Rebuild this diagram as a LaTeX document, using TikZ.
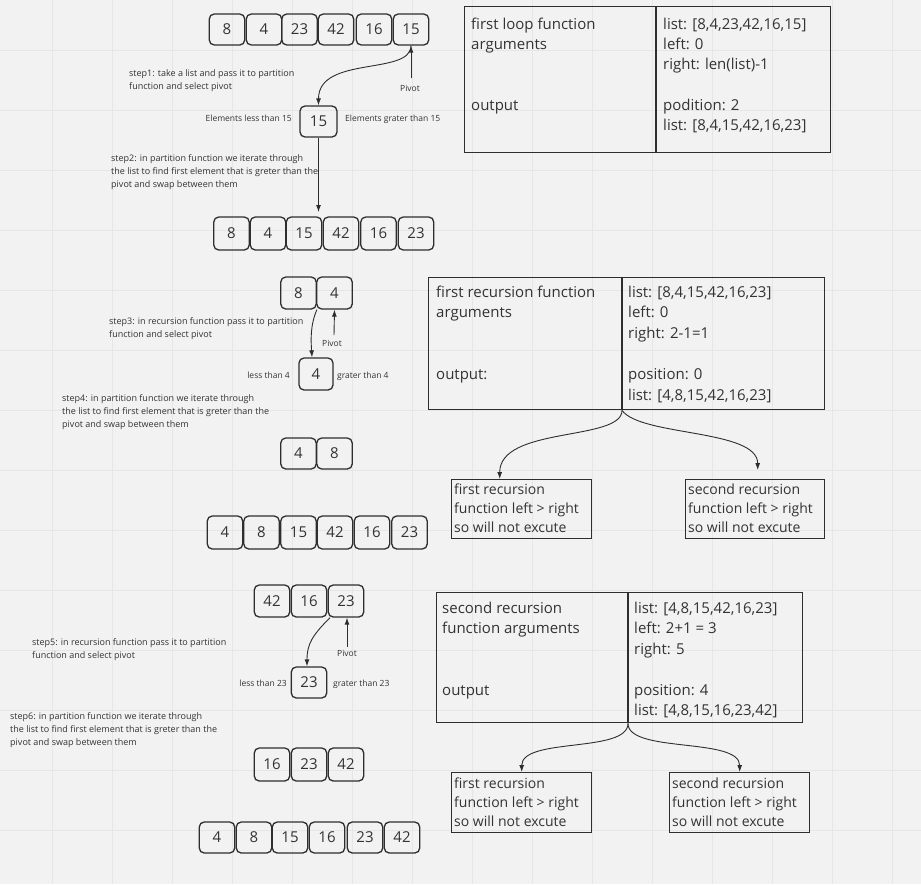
\documentclass[tikz,border=0pt]{standalone}
\usepackage{fontspec}
\setmainfont{Open Sans}
\usetikzlibrary{arrows.meta}
\definecolor{bg}{HTML}{F2F2F2}
\definecolor{gridc}{HTML}{E6E6E6}
\definecolor{ink}{HTML}{333333}
\definecolor{edge}{HTML}{2E2E2E}
% several lines of left-aligned text; the node baseline is the first line's
\newcommand{\txtlines}[3]{{\fontsize{#1}{#2}\selectfont\begin{tabular}[t]{@{}l@{}}#3\end{tabular}}}
\begin{document}
\begin{tikzpicture}[x=1pt,y=-1pt,
  numbox/.style={draw=edge, line width=1.3pt, rounded corners=5pt, minimum width=35.5pt,
    minimum height=32pt, inner sep=0pt, text=ink, font=\fontsize{15}{18}\selectfont},
  cell/.style={draw=edge, line width=1.4pt, anchor=north west, inner sep=0pt},
  txt/.style={text=ink, inner sep=0pt, anchor=base west},
  lbl/.style={text=ink, inner sep=0pt, font=\fontsize{8.5}{11}\selectfont},
  conn/.style={draw=edge, line width=0.9pt, -{Latex[length=7pt,width=5pt]}},
]
% canvas and grid
\fill[bg] (0,0) rectangle (921,884);
\useasboundingbox (0,0) rectangle (921,884);
\foreach \gx in {52,112,...,892} \draw[gridc, line width=0.8pt] (\gx,0) -- (\gx,884);
\foreach \gy in {50,110,...,830} \draw[gridc, line width=0.8pt] (0,\gy) -- (921,\gy);

% ---------- first partition ----------
\node[numbox, minimum height=31pt] (a1) at (227,29.5) {8};
\node[numbox, minimum height=31pt] (a2) at (264,29.5) {4};
\node[numbox, minimum height=31pt] (a3) at (299.5,29.5) {23};
\node[numbox, minimum height=31pt] (a4) at (336,29.5) {42};
\node[numbox, minimum height=31pt] (a5) at (374,29.5) {16};
\node[numbox, minimum height=31pt] (a6) at (411,29.5) {15};

\node[numbox, minimum width=37pt, minimum height=31pt] (p1) at (318.5,121.5) {15};

\node[numbox, minimum height=33pt] (b1) at (231.5,233.5) {8};
\node[numbox, minimum height=33pt] (b2) at (268,233.5) {4};
\node[numbox, minimum height=33pt] (b3) at (304,233.5) {15};
\node[numbox, minimum height=33pt] (b4) at (341,233.5) {42};
\node[numbox, minimum height=33pt] (b5) at (378.5,233.5) {16};
\node[numbox, minimum height=33pt] (b6) at (416,233.5) {23};

\coordinate (pv1) at (411,78);
\coordinate (d1) at (318.5,212);
\draw[conn] (a6.south) .. controls +(0,30) and +(0,-50) .. (p1.north);
\draw[conn] (pv1) -- (a6.south);
\draw[conn] (p1.south) -- (d1);

\node[lbl, anchor=base] (pl1) at (410,91) {Pivot};
\node[lbl, anchor=base east] (ls1) at (292,121) {Elements less than 15};
\node[lbl, anchor=base west] (gr1) at (345,121) {Elements grater than 15};
\node[txt] (s1) at (129,76) {\txtlines{9}{13}{step1: take a list and pass it to partition\\function and select pivot}};
\node[txt] (s2) at (111,161) {\txtlines{9}{13}{step2: in partition function we iterate through\\the list to find first element that is greter than the\\pivot and swap between them}};

\node[cell, minimum width=191pt, minimum height=146pt] (t1l) at (464,6) {};
\node[cell, minimum width=174pt, minimum height=146pt] (t1r) at (656,6) {};
\node[txt] (t1a) at (471,29) {\txtlines{15}{20.3}{first loop function\\arguments\\ \\ \\output}};
\node[txt] (t1b) at (663,29) {\txtlines{15}{20.3}{list: [8,4,23,42,16,15]\\left: 0\\right: len(list)-1\\ \\podition: 2\\list: [8,4,15,42,16,23]}};

% ---------- first recursion ----------
\node[numbox] (c1) at (298.5,293) {8};
\node[numbox] (c2) at (334.5,293) {4};
\node[numbox, minimum width=34pt] (q1) at (316,374) {4};
\node[numbox, minimum height=31pt] (c3) at (298.5,453.5) {4};
\node[numbox, minimum height=31pt] (c4) at (334.5,453.5) {8};

\coordinate (pv2) at (334,335);
\draw[conn] (c1.south east) .. controls +(-7,16) and +(-1,-16) .. ([xshift=-4pt]q1.north);
\draw[conn] (pv2) -- (c2.south);
\node[lbl, anchor=base] (pl2) at (332,346) {Pivot};
\node[lbl, anchor=base east] (ls2) at (290,378) {less than 4};
\node[lbl, anchor=base west] (gr2) at (337,378) {grater than 4};
\node[txt] (s3) at (109,324) {\txtlines{9}{13}{step3: in recursion function pass it to partition\\function and select pivot}};
\node[txt] (s4) at (62,401) {\txtlines{9}{13}{step4: in partition function we iterate through\\the list to find first element that is greter than the\\pivot and swap between them}};

\node[cell, minimum width=193pt, minimum height=132pt] (t2l) at (428,277) {};
\node[cell, minimum width=202pt, minimum height=132pt] (t2r) at (622,277) {};
\node[txt] (t2a) at (436,297) {\txtlines{15}{20.6}{first recursion function\\arguments\\ \\ \\output:}};
\node[txt] (t2b) at (628,297) {\txtlines{15}{20.6}{list: [8,4,15,42,16,23]\\left: 0\\right: 2-1=1\\ \\position: 0\\list: [4,8,15,42,16,23]}};

\node[cell, minimum width=140pt, minimum height=59pt] (r1l) at (451,479) {};
\node[cell, minimum width=139pt, minimum height=59pt] (r1r) at (685,479) {};
\node[txt] (r1la) at (454,494.5) {\txtlines{14}{19}{first recursion\\function left > right\\so will not excute}};
\node[txt] (r1ra) at (688,494.5) {\txtlines{14}{19}{second recursion\\function left > right\\so will not excute}};
\draw[conn] (t2r.south west) .. controls +(0,31) and +(0,-53) .. ([xshift=-22pt]r1l.north);
\draw[conn, shorten >=9pt] (t2r.south west) .. controls +(19,26) and +(0,-50) .. ([xshift=2.5pt]r1r.north);

\node[numbox, minimum height=33pt] (f1) at (225,532.5) {4};
\node[numbox, minimum height=33pt] (f2) at (261.5,532.5) {8};
\node[numbox, minimum height=33pt] (f3) at (298.5,532.5) {15};
\node[numbox, minimum height=33pt] (f4) at (335,532.5) {42};
\node[numbox, minimum height=33pt] (f5) at (372,532.5) {16};
\node[numbox, minimum height=33pt] (f6) at (409.5,532.5) {23};

% ---------- second recursion ----------
\node[numbox] (e1) at (272,601) {42};
\node[numbox] (e2) at (309,601) {16};
\node[numbox] (e3) at (346,601) {23};
\node[numbox, minimum height=31pt] (q2) at (309,682.5) {23};
\node[numbox, minimum height=33pt] (g1) at (272,764.5) {16};
\node[numbox, minimum height=33pt] (g2) at (309,764.5) {23};
\node[numbox, minimum height=33pt] (g3) at (346,764.5) {42};

\coordinate (pv3) at (347,647);
\draw[conn] ([xshift=-16pt]e3.south) .. controls +(-18,18) and +(0,-22) .. ([xshift=-2pt]q2.north);
\draw[conn] (pv3) -- ([xshift=1pt]e3.south);
\node[lbl, anchor=base] (pl3) at (347,656) {Pivot};
\node[lbl, anchor=base east] (ls3) at (287,686) {less than 23};
\node[lbl, anchor=base west] (gr3) at (333,686) {grater than 23};
\node[txt] (s5) at (32,645) {\txtlines{9}{13}{step5: in recursion function pass it to partition\\function and select pivot}};
\node[txt] (s6) at (10,719) {\txtlines{9}{13}{step6: in partition function we iterate through\\the list to find first element that is greter than the\\pivot and swap between them}};

\node[cell, minimum width=191pt, minimum height=130pt] (t3l) at (436,592) {};
\node[cell, minimum width=174pt, minimum height=130pt] (t3r) at (628,592) {};
\node[txt] (t3a) at (442,613) {\txtlines{15}{20.5}{second recursion\\function arguments\\ \\ \\output}};
\node[txt] (t3b) at (634,613) {\txtlines{15}{20.5}{list: [4,8,15,42,16,23]\\left: 2+1 = 3\\right: 5\\ \\position: 4\\list: [4,8,15,16,23,42]}};

\node[cell, minimum width=140pt, minimum height=60pt] (r2l) at (451,772) {};
\node[cell, minimum width=140pt, minimum height=60pt] (r2r) at (669,772) {};
\node[txt] (r2la) at (454,788) {\txtlines{14}{19}{first recursion\\function left > right\\so will not excute}};
\node[txt] (r2ra) at (672,788) {\txtlines{14}{19}{second recursion\\function left > right\\so will not excute}};
\draw[conn] (t3r.south west) .. controls +(0,30) and +(0,-35) .. (r2l.north);
\draw[conn] (t3r.south west) .. controls +(0,30) and +(0,-35) .. (r2r.north);

\node[numbox, minimum height=31pt] (h1) at (217,837.5) {4};
\node[numbox, minimum height=31pt] (h2) at (254,837.5) {8};
\node[numbox, minimum height=31pt] (h3) at (290,837.5) {15};
\node[numbox, minimum height=31pt] (h4) at (327,837.5) {16};
\node[numbox, minimum height=31pt] (h5) at (365,837.5) {23};
\node[numbox, minimum height=31pt] (h6) at (402,837.5) {42};
\end{tikzpicture}
\end{document}
